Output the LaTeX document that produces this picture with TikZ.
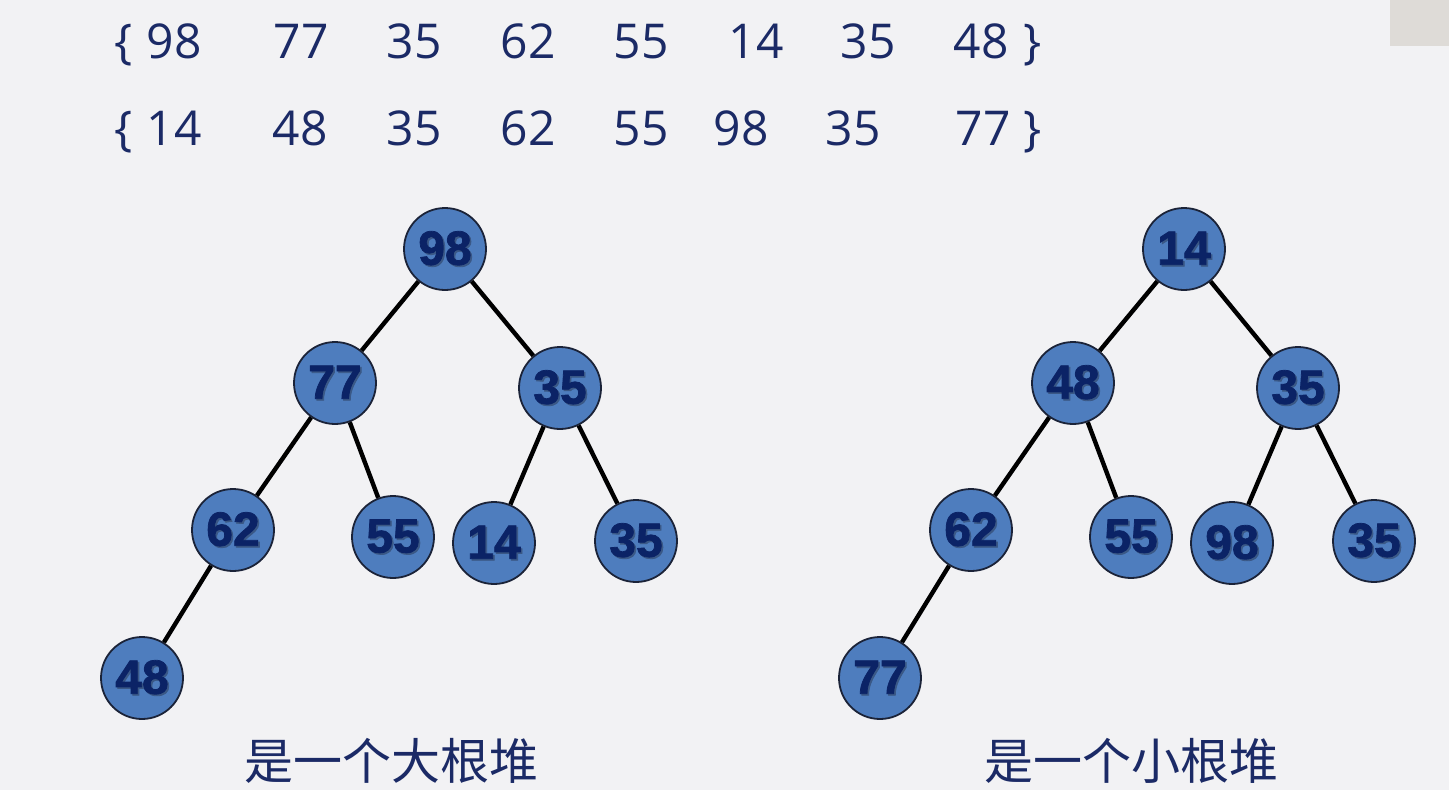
\documentclass[tikz,border=0pt]{standalone}
\usepackage{fontspec}
\setmainfont{Open Sans}
\newfontfamily\numfont[BoldFeatures={FakeBold=1.6}]{Liberation Sans}
\newfontfamily\cjk{Noto Sans CJK SC}
\definecolor{bgc}{HTML}{F2F2F4}
\definecolor{navy}{HTML}{1B2A66}
\definecolor{lblc}{HTML}{0B2366}
\definecolor{shadowc}{HTML}{2A3A58}
\definecolor{nodefill}{HTML}{4E7DBE}
\definecolor{nodeline}{HTML}{1B2338}
\definecolor{cornerc}{HTML}{DEDBD7}
\newcommand\shtext[1]{\leavevmode\rlap{\raisebox{-1.6pt}{\kern1.6pt\textcolor{shadowc!55!nodefill}{#1}}}#1}
\begin{document}
\begin{tikzpicture}[x=1pt,y=-1pt,
  hn/.style={circle,draw=nodeline,line width=1.8pt,fill=nodefill,minimum size=82pt,inner sep=0pt,
    font=\numfont\bfseries\fontsize{48}{50}\selectfont,text=lblc},
  edge/.style={line width=4.4pt,black},
  seq/.style={anchor=base,inner sep=0pt,text=navy,font=\fontsize{48}{50}\selectfont},
  captext/.style={inner sep=0pt,text=navy,font=\cjk\fontsize{49}{51}\selectfont}]
\fill[bgc] (0,0) rectangle (1449,790);
\useasboundingbox (0,0) rectangle (1449,790);
\fill[cornerc] (1390,0) rectangle (1449,46);
% sequences
\foreach \x/\t [count=\i] in {124/\{,174/98,301/77,414/35,528/62,641/55,756/14,868/35,981/48,1033/\}}
  \node[seq] (sa\i) at (\x,58) {\t};
\foreach \x/\t [count=\i] in {124/\{,174/14,300/48,414/35,528/62,641/55,741/98,853/35,983/77,1033/\}}
  \node[seq] (sb\i) at (\x,145) {\t};
% left tree
\node[hn] (a1) at (445,249) {\shtext{98}};
\node[hn] (a2) at (335,383) {\shtext{77}};
\node[hn] (a3) at (560,388) {\shtext{35}};
\node[hn] (a4) at (233,530) {\shtext{62}};
\node[hn] (a5) at (393,537) {\shtext{55}};
\node[hn] (a6) at (494,543) {\shtext{14}};
\node[hn] (a7) at (636,541) {\shtext{35}};
\node[hn] (a8) at (142,678) {\shtext{48}};
% right tree
\node[hn] (b1) at (1184,249) {\shtext{14}};
\node[hn] (b2) at (1073,383) {\shtext{48}};
\node[hn] (b3) at (1298,388) {\shtext{35}};
\node[hn] (b4) at (971,530) {\shtext{62}};
\node[hn] (b5) at (1131,537) {\shtext{55}};
\node[hn] (b6) at (1232,543) {\shtext{98}};
\node[hn] (b7) at (1374,541) {\shtext{35}};
\node[hn] (b8) at (880,678) {\shtext{77}};
\foreach \p in {a,b}{
  \draw[edge] (\p1) -- (\p2);
  \draw[edge] (\p1) -- (\p3);
  \draw[edge] (\p2) -- (\p4);
  \draw[edge] (\p2) -- (\p5);
  \draw[edge] (\p3) -- (\p6);
  \draw[edge] (\p3) -- (\p7);
  \draw[edge] (\p4) -- (\p8);
}
\node[captext] (capa) at (391,761) {是一个大根堆};
\node[captext] (capb) at (1131,761) {是一个小根堆};
\end{tikzpicture}
\end{document}
